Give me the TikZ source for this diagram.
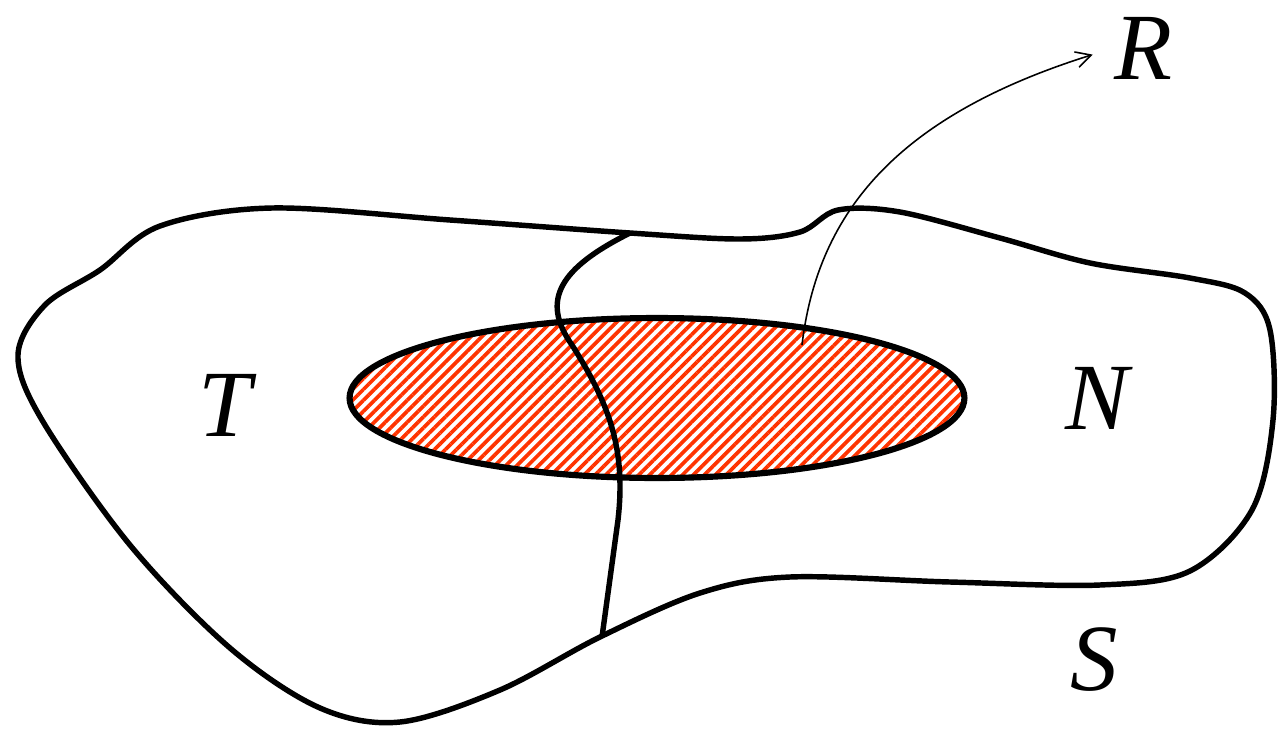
\documentclass[tikz,border=0pt]{standalone}
\usepackage{fontspec}
\setmainfont{Liberation Serif}
\usetikzlibrary{arrows.meta,shapes.geometric,patterns.meta}
\definecolor{hatchred}{HTML}{FF3300}
\tikzset{region/.style={line width=3.1pt,draw=black,line join=round},
  core/.style={ellipse,draw=black,line width=3.5pt,minimum width=12.3cm,minimum height=3.2cm,
  inner sep=0pt,pattern={Lines[angle=45,distance=4.4pt,line width=2.1pt]},pattern color=hatchred},
  setlabel/.style={font=\fontsize{54}{60}\selectfont\itshape,inner sep=0pt},
  pointer/.style={-{Straight Barb[length=3mm,width=3.2mm]},line width=0.9pt,shorten >=0.44cm}}
\begin{document}
\begin{tikzpicture}[x=0.02cm,y=-0.02cm]
 \useasboundingbox (0,0) rectangle (1279,731);
 \draw[region] plot[smooth cycle,tension=0.55] coordinates {(272,208) (450,220) (630,233)
  (740,239) (800,232) (838,210) (900,212) (1000,238) (1090,263) (1190,278) (1245,293)
  (1270,330) (1273,420) (1252,510) (1190,571) (1100,585) (950,582) (790,577) (700,593)
  (600,637) (500,690) (400,722) (320,708) (230,648) (130,545) (42,420) (18,355) (45,305)
  (100,270) (160,226)};
 \node[core] (zone) at (657,398) {};
 \draw[region] (630,233) .. controls (560,268) and (540,300) .. (572,345)
  .. controls (610,405) and (626,450) .. (618,520) -- (602,637);
 \node[setlabel] (t) at (225,405) {T};
 \node[setlabel] (n) at (1097,398) {N};
 \node[setlabel] (s) at (1094,660) {S};
 \node[setlabel] (r) at (1143,48) {R};
 \coordinate (src) at (802,345);
 \draw[pointer] (src) .. controls (818,210) and (900,115) .. (r.west);
\end{tikzpicture}
\end{document}
